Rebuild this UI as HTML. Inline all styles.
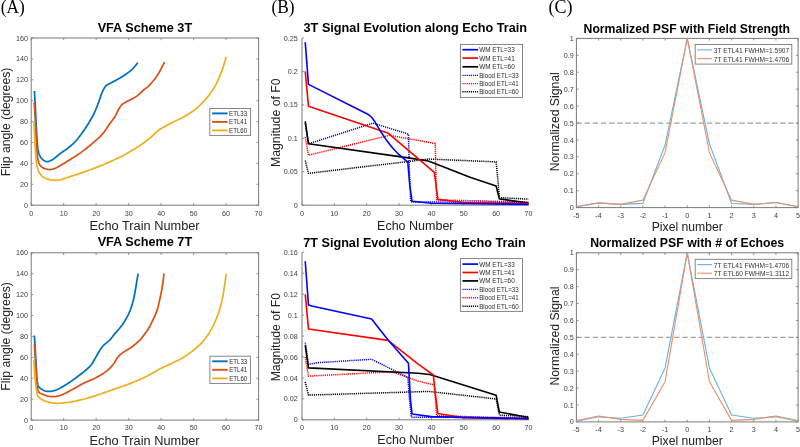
<!DOCTYPE html><html><head><meta charset="utf-8"><style>html,body{margin:0;padding:0;background:#fff;width:800px;height:447px;overflow:hidden}svg{display:block;will-change:transform}</style></head><body>
<svg width="800" height="447" viewBox="0 0 800 447">
<rect width="800" height="447" fill="#fff"/>
<text x="0.80" y="12.60" font-size="18" font-family='"Liberation Serif", serif' fill="#000" text-anchor="start" textLength="24.00" lengthAdjust="spacingAndGlyphs" >(A)</text>
<text x="271.60" y="12.60" font-size="18" font-family='"Liberation Serif", serif' fill="#000" text-anchor="start" textLength="23.00" lengthAdjust="spacingAndGlyphs" >(B)</text>
<text x="548.50" y="12.60" font-size="18" font-family='"Liberation Serif", serif' fill="#000" text-anchor="start" textLength="24.00" lengthAdjust="spacingAndGlyphs" >(C)</text>
<rect x="31.20" y="38.00" width="227.40" height="167.20" fill="none" stroke="#7a7a7a" stroke-width="1"/>
<line x1="31.20" y1="205.20" x2="31.20" y2="203.00" stroke="#7a7a7a" stroke-width="0.8"/>
<line x1="31.20" y1="38.00" x2="31.20" y2="40.20" stroke="#7a7a7a" stroke-width="0.8"/>
<line x1="63.69" y1="205.20" x2="63.69" y2="203.00" stroke="#7a7a7a" stroke-width="0.8"/>
<line x1="63.69" y1="38.00" x2="63.69" y2="40.20" stroke="#7a7a7a" stroke-width="0.8"/>
<line x1="96.17" y1="205.20" x2="96.17" y2="203.00" stroke="#7a7a7a" stroke-width="0.8"/>
<line x1="96.17" y1="38.00" x2="96.17" y2="40.20" stroke="#7a7a7a" stroke-width="0.8"/>
<line x1="128.66" y1="205.20" x2="128.66" y2="203.00" stroke="#7a7a7a" stroke-width="0.8"/>
<line x1="128.66" y1="38.00" x2="128.66" y2="40.20" stroke="#7a7a7a" stroke-width="0.8"/>
<line x1="161.14" y1="205.20" x2="161.14" y2="203.00" stroke="#7a7a7a" stroke-width="0.8"/>
<line x1="161.14" y1="38.00" x2="161.14" y2="40.20" stroke="#7a7a7a" stroke-width="0.8"/>
<line x1="193.63" y1="205.20" x2="193.63" y2="203.00" stroke="#7a7a7a" stroke-width="0.8"/>
<line x1="193.63" y1="38.00" x2="193.63" y2="40.20" stroke="#7a7a7a" stroke-width="0.8"/>
<line x1="226.11" y1="205.20" x2="226.11" y2="203.00" stroke="#7a7a7a" stroke-width="0.8"/>
<line x1="226.11" y1="38.00" x2="226.11" y2="40.20" stroke="#7a7a7a" stroke-width="0.8"/>
<line x1="258.60" y1="205.20" x2="258.60" y2="203.00" stroke="#7a7a7a" stroke-width="0.8"/>
<line x1="258.60" y1="38.00" x2="258.60" y2="40.20" stroke="#7a7a7a" stroke-width="0.8"/>
<line x1="31.20" y1="205.20" x2="33.40" y2="205.20" stroke="#7a7a7a" stroke-width="0.8"/>
<line x1="258.60" y1="205.20" x2="256.40" y2="205.20" stroke="#7a7a7a" stroke-width="0.8"/>
<line x1="31.20" y1="184.30" x2="33.40" y2="184.30" stroke="#7a7a7a" stroke-width="0.8"/>
<line x1="258.60" y1="184.30" x2="256.40" y2="184.30" stroke="#7a7a7a" stroke-width="0.8"/>
<line x1="31.20" y1="163.40" x2="33.40" y2="163.40" stroke="#7a7a7a" stroke-width="0.8"/>
<line x1="258.60" y1="163.40" x2="256.40" y2="163.40" stroke="#7a7a7a" stroke-width="0.8"/>
<line x1="31.20" y1="142.50" x2="33.40" y2="142.50" stroke="#7a7a7a" stroke-width="0.8"/>
<line x1="258.60" y1="142.50" x2="256.40" y2="142.50" stroke="#7a7a7a" stroke-width="0.8"/>
<line x1="31.20" y1="121.60" x2="33.40" y2="121.60" stroke="#7a7a7a" stroke-width="0.8"/>
<line x1="258.60" y1="121.60" x2="256.40" y2="121.60" stroke="#7a7a7a" stroke-width="0.8"/>
<line x1="31.20" y1="100.70" x2="33.40" y2="100.70" stroke="#7a7a7a" stroke-width="0.8"/>
<line x1="258.60" y1="100.70" x2="256.40" y2="100.70" stroke="#7a7a7a" stroke-width="0.8"/>
<line x1="31.20" y1="79.80" x2="33.40" y2="79.80" stroke="#7a7a7a" stroke-width="0.8"/>
<line x1="258.60" y1="79.80" x2="256.40" y2="79.80" stroke="#7a7a7a" stroke-width="0.8"/>
<line x1="31.20" y1="58.90" x2="33.40" y2="58.90" stroke="#7a7a7a" stroke-width="0.8"/>
<line x1="258.60" y1="58.90" x2="256.40" y2="58.90" stroke="#7a7a7a" stroke-width="0.8"/>
<line x1="31.20" y1="38.00" x2="33.40" y2="38.00" stroke="#7a7a7a" stroke-width="0.8"/>
<line x1="258.60" y1="38.00" x2="256.40" y2="38.00" stroke="#7a7a7a" stroke-width="0.8"/>
<text x="31.20" y="215.80" font-size="7.2" font-family='"Liberation Sans", sans-serif' fill="#3c3c3c" text-anchor="middle" >0</text>
<text x="63.69" y="215.80" font-size="7.2" font-family='"Liberation Sans", sans-serif' fill="#3c3c3c" text-anchor="middle" >10</text>
<text x="96.17" y="215.80" font-size="7.2" font-family='"Liberation Sans", sans-serif' fill="#3c3c3c" text-anchor="middle" >20</text>
<text x="128.66" y="215.80" font-size="7.2" font-family='"Liberation Sans", sans-serif' fill="#3c3c3c" text-anchor="middle" >30</text>
<text x="161.14" y="215.80" font-size="7.2" font-family='"Liberation Sans", sans-serif' fill="#3c3c3c" text-anchor="middle" >40</text>
<text x="193.63" y="215.80" font-size="7.2" font-family='"Liberation Sans", sans-serif' fill="#3c3c3c" text-anchor="middle" >50</text>
<text x="226.11" y="215.80" font-size="7.2" font-family='"Liberation Sans", sans-serif' fill="#3c3c3c" text-anchor="middle" >60</text>
<text x="258.60" y="215.80" font-size="7.2" font-family='"Liberation Sans", sans-serif' fill="#3c3c3c" text-anchor="middle" >70</text>
<text x="28.00" y="207.79" font-size="7.2" font-family='"Liberation Sans", sans-serif' fill="#3c3c3c" text-anchor="end" >0</text>
<text x="28.00" y="186.89" font-size="7.2" font-family='"Liberation Sans", sans-serif' fill="#3c3c3c" text-anchor="end" >20</text>
<text x="28.00" y="165.99" font-size="7.2" font-family='"Liberation Sans", sans-serif' fill="#3c3c3c" text-anchor="end" >40</text>
<text x="28.00" y="145.09" font-size="7.2" font-family='"Liberation Sans", sans-serif' fill="#3c3c3c" text-anchor="end" >60</text>
<text x="28.00" y="124.19" font-size="7.2" font-family='"Liberation Sans", sans-serif' fill="#3c3c3c" text-anchor="end" >80</text>
<text x="28.00" y="103.29" font-size="7.2" font-family='"Liberation Sans", sans-serif' fill="#3c3c3c" text-anchor="end" >100</text>
<text x="28.00" y="82.39" font-size="7.2" font-family='"Liberation Sans", sans-serif' fill="#3c3c3c" text-anchor="end" >120</text>
<text x="28.00" y="61.49" font-size="7.2" font-family='"Liberation Sans", sans-serif' fill="#3c3c3c" text-anchor="end" >140</text>
<text x="28.00" y="40.59" font-size="7.2" font-family='"Liberation Sans", sans-serif' fill="#3c3c3c" text-anchor="end" >160</text>
<text x="144.90" y="32.30" font-size="12" font-family='"Liberation Sans", sans-serif' fill="#000" text-anchor="middle" font-weight="bold" textLength="94.50" lengthAdjust="spacingAndGlyphs" >VFA Scheme 3T</text>
<text x="144.60" y="230.40" font-size="12" font-family='"Liberation Sans", sans-serif' fill="#222222" text-anchor="middle" textLength="110.00" lengthAdjust="spacingAndGlyphs" >Echo Train Number</text>
<text x="10.50" y="121.90" font-size="12" font-family='"Liberation Sans", sans-serif' fill="#222222" text-anchor="middle" textLength="108.50" lengthAdjust="spacingAndGlyphs" transform="rotate(-90 10.50 121.90)" >Flip angle (degrees)</text>
<rect x="31.20" y="252.80" width="227.40" height="167.30" fill="none" stroke="#7a7a7a" stroke-width="1"/>
<line x1="31.20" y1="420.10" x2="31.20" y2="417.90" stroke="#7a7a7a" stroke-width="0.8"/>
<line x1="31.20" y1="252.80" x2="31.20" y2="255.00" stroke="#7a7a7a" stroke-width="0.8"/>
<line x1="63.69" y1="420.10" x2="63.69" y2="417.90" stroke="#7a7a7a" stroke-width="0.8"/>
<line x1="63.69" y1="252.80" x2="63.69" y2="255.00" stroke="#7a7a7a" stroke-width="0.8"/>
<line x1="96.17" y1="420.10" x2="96.17" y2="417.90" stroke="#7a7a7a" stroke-width="0.8"/>
<line x1="96.17" y1="252.80" x2="96.17" y2="255.00" stroke="#7a7a7a" stroke-width="0.8"/>
<line x1="128.66" y1="420.10" x2="128.66" y2="417.90" stroke="#7a7a7a" stroke-width="0.8"/>
<line x1="128.66" y1="252.80" x2="128.66" y2="255.00" stroke="#7a7a7a" stroke-width="0.8"/>
<line x1="161.14" y1="420.10" x2="161.14" y2="417.90" stroke="#7a7a7a" stroke-width="0.8"/>
<line x1="161.14" y1="252.80" x2="161.14" y2="255.00" stroke="#7a7a7a" stroke-width="0.8"/>
<line x1="193.63" y1="420.10" x2="193.63" y2="417.90" stroke="#7a7a7a" stroke-width="0.8"/>
<line x1="193.63" y1="252.80" x2="193.63" y2="255.00" stroke="#7a7a7a" stroke-width="0.8"/>
<line x1="226.11" y1="420.10" x2="226.11" y2="417.90" stroke="#7a7a7a" stroke-width="0.8"/>
<line x1="226.11" y1="252.80" x2="226.11" y2="255.00" stroke="#7a7a7a" stroke-width="0.8"/>
<line x1="258.60" y1="420.10" x2="258.60" y2="417.90" stroke="#7a7a7a" stroke-width="0.8"/>
<line x1="258.60" y1="252.80" x2="258.60" y2="255.00" stroke="#7a7a7a" stroke-width="0.8"/>
<line x1="31.20" y1="420.10" x2="33.40" y2="420.10" stroke="#7a7a7a" stroke-width="0.8"/>
<line x1="258.60" y1="420.10" x2="256.40" y2="420.10" stroke="#7a7a7a" stroke-width="0.8"/>
<line x1="31.20" y1="399.19" x2="33.40" y2="399.19" stroke="#7a7a7a" stroke-width="0.8"/>
<line x1="258.60" y1="399.19" x2="256.40" y2="399.19" stroke="#7a7a7a" stroke-width="0.8"/>
<line x1="31.20" y1="378.27" x2="33.40" y2="378.27" stroke="#7a7a7a" stroke-width="0.8"/>
<line x1="258.60" y1="378.27" x2="256.40" y2="378.27" stroke="#7a7a7a" stroke-width="0.8"/>
<line x1="31.20" y1="357.36" x2="33.40" y2="357.36" stroke="#7a7a7a" stroke-width="0.8"/>
<line x1="258.60" y1="357.36" x2="256.40" y2="357.36" stroke="#7a7a7a" stroke-width="0.8"/>
<line x1="31.20" y1="336.45" x2="33.40" y2="336.45" stroke="#7a7a7a" stroke-width="0.8"/>
<line x1="258.60" y1="336.45" x2="256.40" y2="336.45" stroke="#7a7a7a" stroke-width="0.8"/>
<line x1="31.20" y1="315.54" x2="33.40" y2="315.54" stroke="#7a7a7a" stroke-width="0.8"/>
<line x1="258.60" y1="315.54" x2="256.40" y2="315.54" stroke="#7a7a7a" stroke-width="0.8"/>
<line x1="31.20" y1="294.62" x2="33.40" y2="294.62" stroke="#7a7a7a" stroke-width="0.8"/>
<line x1="258.60" y1="294.62" x2="256.40" y2="294.62" stroke="#7a7a7a" stroke-width="0.8"/>
<line x1="31.20" y1="273.71" x2="33.40" y2="273.71" stroke="#7a7a7a" stroke-width="0.8"/>
<line x1="258.60" y1="273.71" x2="256.40" y2="273.71" stroke="#7a7a7a" stroke-width="0.8"/>
<line x1="31.20" y1="252.80" x2="33.40" y2="252.80" stroke="#7a7a7a" stroke-width="0.8"/>
<line x1="258.60" y1="252.80" x2="256.40" y2="252.80" stroke="#7a7a7a" stroke-width="0.8"/>
<text x="31.20" y="430.30" font-size="7.2" font-family='"Liberation Sans", sans-serif' fill="#3c3c3c" text-anchor="middle" >0</text>
<text x="63.69" y="430.30" font-size="7.2" font-family='"Liberation Sans", sans-serif' fill="#3c3c3c" text-anchor="middle" >10</text>
<text x="96.17" y="430.30" font-size="7.2" font-family='"Liberation Sans", sans-serif' fill="#3c3c3c" text-anchor="middle" >20</text>
<text x="128.66" y="430.30" font-size="7.2" font-family='"Liberation Sans", sans-serif' fill="#3c3c3c" text-anchor="middle" >30</text>
<text x="161.14" y="430.30" font-size="7.2" font-family='"Liberation Sans", sans-serif' fill="#3c3c3c" text-anchor="middle" >40</text>
<text x="193.63" y="430.30" font-size="7.2" font-family='"Liberation Sans", sans-serif' fill="#3c3c3c" text-anchor="middle" >50</text>
<text x="226.11" y="430.30" font-size="7.2" font-family='"Liberation Sans", sans-serif' fill="#3c3c3c" text-anchor="middle" >60</text>
<text x="258.60" y="430.30" font-size="7.2" font-family='"Liberation Sans", sans-serif' fill="#3c3c3c" text-anchor="middle" >70</text>
<text x="28.00" y="422.69" font-size="7.2" font-family='"Liberation Sans", sans-serif' fill="#3c3c3c" text-anchor="end" >0</text>
<text x="28.00" y="401.78" font-size="7.2" font-family='"Liberation Sans", sans-serif' fill="#3c3c3c" text-anchor="end" >20</text>
<text x="28.00" y="380.87" font-size="7.2" font-family='"Liberation Sans", sans-serif' fill="#3c3c3c" text-anchor="end" >40</text>
<text x="28.00" y="359.95" font-size="7.2" font-family='"Liberation Sans", sans-serif' fill="#3c3c3c" text-anchor="end" >60</text>
<text x="28.00" y="339.04" font-size="7.2" font-family='"Liberation Sans", sans-serif' fill="#3c3c3c" text-anchor="end" >80</text>
<text x="28.00" y="318.13" font-size="7.2" font-family='"Liberation Sans", sans-serif' fill="#3c3c3c" text-anchor="end" >100</text>
<text x="28.00" y="297.22" font-size="7.2" font-family='"Liberation Sans", sans-serif' fill="#3c3c3c" text-anchor="end" >120</text>
<text x="28.00" y="276.30" font-size="7.2" font-family='"Liberation Sans", sans-serif' fill="#3c3c3c" text-anchor="end" >140</text>
<text x="28.00" y="255.39" font-size="7.2" font-family='"Liberation Sans", sans-serif' fill="#3c3c3c" text-anchor="end" >160</text>
<text x="144.90" y="246.40" font-size="12" font-family='"Liberation Sans", sans-serif' fill="#000" text-anchor="middle" font-weight="bold" textLength="94.50" lengthAdjust="spacingAndGlyphs" >VFA Scheme 7T</text>
<text x="144.60" y="444.60" font-size="12" font-family='"Liberation Sans", sans-serif' fill="#222222" text-anchor="middle" textLength="110.00" lengthAdjust="spacingAndGlyphs" >Echo Train Number</text>
<text x="10.50" y="336.40" font-size="12" font-family='"Liberation Sans", sans-serif' fill="#222222" text-anchor="middle" textLength="108.50" lengthAdjust="spacingAndGlyphs" transform="rotate(-90 10.50 336.40)" >Flip angle (degrees)</text>
<path d="M34.40,91.00 L34.48,92.38 L34.59,94.13 L34.71,96.19 L34.85,98.54 L35.00,101.14 L35.16,103.94 L35.33,106.91 L35.50,110.00 L35.68,113.46 L35.87,117.44 L36.07,121.73 L36.27,126.15 L36.49,130.51 L36.70,134.61 L36.90,138.27 L37.10,141.30 L37.28,143.68 L37.44,145.59 L37.60,147.12 L37.76,148.36 L37.92,149.41 L38.11,150.36 L38.34,151.29 L38.60,152.30 L38.89,153.33 L39.21,154.28 L39.54,155.15 L39.90,155.95 L40.29,156.69 L40.72,157.37 L41.19,158.00 L41.70,158.60 L42.27,159.17 L42.89,159.72 L43.55,160.22 L44.25,160.66 L44.97,161.04 L45.71,161.33 L46.46,161.52 L47.20,161.60 L47.95,161.55 L48.71,161.38 L49.50,161.11 L50.29,160.76 L51.09,160.35 L51.89,159.88 L52.70,159.40 L53.50,158.90 L54.29,158.37 L55.08,157.78 L55.87,157.15 L56.66,156.48 L57.46,155.78 L58.28,155.08 L59.12,154.38 L60.00,153.70 L60.91,153.04 L61.86,152.38 L62.83,151.73 L63.81,151.07 L64.81,150.39 L65.81,149.69 L66.81,148.97 L67.80,148.20 L68.78,147.41 L69.77,146.61 L70.76,145.79 L71.75,144.94 L72.74,144.05 L73.73,143.12 L74.72,142.14 L75.70,141.10 L76.69,139.99 L77.68,138.81 L78.67,137.57 L79.66,136.29 L80.64,134.99 L81.61,133.66 L82.56,132.33 L83.50,131.00 L84.43,129.65 L85.36,128.26 L86.29,126.84 L87.21,125.41 L88.09,124.00 L88.94,122.61 L89.75,121.27 L90.50,120.00 L91.19,118.80 L91.83,117.66 L92.42,116.56 L92.98,115.49 L93.50,114.44 L94.01,113.40 L94.51,112.36 L95.00,111.30 L95.48,110.24 L95.93,109.20 L96.36,108.17 L96.77,107.14 L97.18,106.11 L97.58,105.06 L97.99,104.00 L98.40,102.90 L98.82,101.74 L99.26,100.51 L99.69,99.25 L100.12,97.98 L100.54,96.74 L100.95,95.56 L101.34,94.47 L101.70,93.50 L102.03,92.66 L102.34,91.92 L102.63,91.26 L102.90,90.66 L103.17,90.12 L103.43,89.60 L103.71,89.10 L104.00,88.60 L104.29,88.11 L104.56,87.67 L104.83,87.25 L105.10,86.86 L105.39,86.48 L105.72,86.12 L106.08,85.76 L106.50,85.40 L106.95,85.07 L107.39,84.78 L107.86,84.51 L108.38,84.25 L108.95,83.97 L109.59,83.65 L110.34,83.26 L111.20,82.80 L112.20,82.25 L113.35,81.65 L114.60,80.99 L115.92,80.28 L117.28,79.54 L118.66,78.78 L120.01,77.99 L121.30,77.20 L122.58,76.39 L123.89,75.54 L125.21,74.66 L126.53,73.76 L127.81,72.85 L129.05,71.93 L130.22,71.01 L131.30,70.10 L132.32,69.14 L133.32,68.10 L134.28,67.02 L135.18,65.96 L135.99,64.95 L136.71,64.04 L137.32,63.27 L137.80,62.70" fill="none" stroke="#0072BD" stroke-width="1.75" stroke-linejoin="round" />
<path d="M34.00,102.90 L34.05,103.28 L34.10,103.61 L34.17,103.98 L34.25,104.49 L34.34,105.25 L34.45,106.36 L34.56,107.91 L34.70,110.00 L34.86,112.85 L35.04,116.45 L35.24,120.58 L35.45,125.01 L35.67,129.52 L35.89,133.89 L36.10,137.89 L36.30,141.30 L36.48,144.20 L36.64,146.83 L36.80,149.23 L36.95,151.42 L37.12,153.42 L37.31,155.27 L37.53,156.99 L37.80,158.60 L38.09,160.06 L38.37,161.33 L38.67,162.43 L39.01,163.39 L39.39,164.24 L39.84,165.00 L40.37,165.71 L41.00,166.40 L41.77,167.04 L42.66,167.61 L43.66,168.10 L44.71,168.51 L45.79,168.86 L46.85,169.14 L47.87,169.35 L48.80,169.50 L49.66,169.57 L50.49,169.54 L51.29,169.43 L52.07,169.26 L52.83,169.04 L53.57,168.80 L54.29,168.55 L55.00,168.30 L55.65,168.06 L56.23,167.82 L56.77,167.56 L57.30,167.28 L57.86,166.96 L58.47,166.60 L59.17,166.18 L60.00,165.70 L60.95,165.15 L62.00,164.53 L63.13,163.85 L64.33,163.13 L65.56,162.38 L66.83,161.60 L68.12,160.80 L69.40,160.00 L70.70,159.19 L72.04,158.36 L73.41,157.51 L74.81,156.63 L76.21,155.73 L77.62,154.81 L79.02,153.87 L80.40,152.90 L81.77,151.91 L83.13,150.89 L84.49,149.85 L85.85,148.79 L87.21,147.70 L88.57,146.59 L89.93,145.46 L91.30,144.30 L92.70,143.11 L94.13,141.88 L95.58,140.62 L97.03,139.34 L98.45,138.05 L99.81,136.76 L101.11,135.47 L102.30,134.20 L103.39,132.92 L104.40,131.62 L105.35,130.31 L106.24,129.01 L107.08,127.72 L107.90,126.46 L108.70,125.25 L109.50,124.10 L110.29,123.01 L111.06,121.96 L111.81,120.96 L112.54,119.99 L113.23,119.05 L113.89,118.13 L114.52,117.21 L115.10,116.30 L115.63,115.39 L116.11,114.48 L116.54,113.58 L116.94,112.71 L117.33,111.85 L117.71,111.03 L118.09,110.24 L118.50,109.50 L118.92,108.80 L119.33,108.12 L119.74,107.48 L120.15,106.88 L120.56,106.30 L120.97,105.76 L121.38,105.26 L121.80,104.80 L122.21,104.39 L122.59,104.05 L122.97,103.75 L123.36,103.49 L123.76,103.24 L124.19,102.98 L124.67,102.71 L125.20,102.40 L125.79,102.07 L126.42,101.73 L127.09,101.39 L127.79,101.04 L128.52,100.68 L129.27,100.31 L130.03,99.91 L130.80,99.50 L131.58,99.08 L132.40,98.65 L133.23,98.21 L134.08,97.75 L134.94,97.27 L135.80,96.75 L136.65,96.20 L137.50,95.60 L138.35,94.93 L139.21,94.19 L140.07,93.39 L140.94,92.57 L141.79,91.75 L142.62,90.95 L143.43,90.19 L144.20,89.50 L144.91,88.92 L145.56,88.43 L146.17,88.01 L146.77,87.60 L147.38,87.16 L148.02,86.64 L148.72,86.00 L149.50,85.20 L150.38,84.24 L151.33,83.15 L152.34,81.97 L153.39,80.70 L154.45,79.36 L155.50,77.97 L156.52,76.55 L157.50,75.10 L158.48,73.52 L159.50,71.73 L160.54,69.83 L161.55,67.92 L162.50,66.08 L163.35,64.42 L164.06,63.03 L164.60,62.00" fill="none" stroke="#D95319" stroke-width="1.75" stroke-linejoin="round" />
<path d="M34.00,121.80 L34.06,123.18 L34.13,124.99 L34.21,127.14 L34.31,129.54 L34.41,132.12 L34.53,134.78 L34.66,137.43 L34.80,140.00 L34.95,142.63 L35.11,145.47 L35.28,148.42 L35.46,151.40 L35.65,154.31 L35.85,157.06 L36.07,159.55 L36.30,161.70 L36.54,163.49 L36.78,165.01 L37.03,166.30 L37.30,167.41 L37.59,168.40 L37.89,169.31 L38.23,170.20 L38.60,171.10 L38.99,171.99 L39.41,172.81 L39.84,173.57 L40.30,174.26 L40.79,174.91 L41.32,175.51 L41.89,176.07 L42.50,176.60 L43.18,177.09 L43.93,177.54 L44.74,177.94 L45.57,178.29 L46.41,178.62 L47.25,178.90 L48.05,179.16 L48.80,179.40 L49.50,179.60 L50.16,179.77 L50.80,179.90 L51.42,180.00 L52.04,180.08 L52.67,180.13 L53.32,180.17 L54.00,180.20 L54.65,180.24 L55.22,180.29 L55.77,180.34 L56.34,180.36 L57.00,180.34 L57.80,180.25 L58.78,180.08 L60.00,179.80 L61.50,179.40 L63.25,178.89 L65.18,178.28 L67.25,177.62 L69.39,176.91 L71.55,176.19 L73.68,175.48 L75.70,174.80 L77.65,174.14 L79.60,173.48 L81.55,172.80 L83.50,172.13 L85.45,171.44 L87.40,170.74 L89.35,170.02 L91.30,169.30 L93.26,168.57 L95.22,167.83 L97.18,167.08 L99.14,166.32 L101.11,165.54 L103.07,164.75 L105.04,163.94 L107.00,163.10 L108.96,162.24 L110.93,161.37 L112.89,160.49 L114.86,159.58 L116.82,158.65 L118.78,157.70 L120.74,156.71 L122.70,155.70 L124.68,154.65 L126.68,153.55 L128.69,152.43 L130.69,151.28 L132.67,150.11 L134.61,148.94 L136.49,147.76 L138.30,146.60 L140.05,145.42 L141.79,144.21 L143.48,142.98 L145.12,141.75 L146.70,140.54 L148.19,139.37 L149.60,138.25 L150.90,137.20 L152.08,136.21 L153.15,135.26 L154.12,134.34 L155.01,133.47 L155.85,132.64 L156.65,131.87 L157.42,131.16 L158.20,130.50 L158.93,129.93 L159.57,129.47 L160.15,129.07 L160.71,128.72 L161.29,128.38 L161.90,128.04 L162.60,127.65 L163.40,127.20 L164.30,126.70 L165.25,126.17 L166.26,125.63 L167.32,125.07 L168.43,124.48 L169.60,123.88 L170.83,123.25 L172.10,122.60 L173.45,121.93 L174.89,121.25 L176.39,120.54 L177.94,119.82 L179.51,119.07 L181.10,118.28 L182.66,117.46 L184.20,116.60 L185.73,115.70 L187.27,114.77 L188.83,113.80 L190.38,112.81 L191.91,111.78 L193.42,110.71 L194.88,109.62 L196.30,108.50 L197.67,107.34 L199.01,106.14 L200.33,104.90 L201.61,103.64 L202.85,102.35 L204.07,101.04 L205.25,99.72 L206.40,98.40 L207.51,97.07 L208.59,95.74 L209.64,94.40 L210.65,93.04 L211.63,91.65 L212.58,90.24 L213.51,88.79 L214.40,87.30 L215.27,85.74 L216.12,84.09 L216.94,82.40 L217.73,80.68 L218.48,78.97 L219.20,77.30 L219.87,75.70 L220.50,74.20 L221.08,72.78 L221.61,71.42 L222.10,70.11 L222.56,68.85 L222.98,67.63 L223.37,66.45 L223.74,65.31 L224.10,64.20 L224.44,63.09 L224.76,61.97 L225.06,60.87 L225.32,59.83 L225.57,58.85 L225.78,57.99 L225.96,57.26 L226.10,56.70" fill="none" stroke="#EDB120" stroke-width="1.75" stroke-linejoin="round" />
<path d="M34.40,335.50 L34.52,337.58 L34.69,340.38 L34.89,343.73 L35.11,347.42 L35.34,351.28 L35.57,355.12 L35.79,358.76 L36.00,362.00 L36.18,365.02 L36.34,368.06 L36.48,371.07 L36.63,373.97 L36.80,376.71 L36.99,379.21 L37.22,381.43 L37.50,383.30 L37.82,384.75 L38.17,385.83 L38.55,386.61 L38.96,387.16 L39.40,387.57 L39.89,387.91 L40.42,388.26 L41.00,388.70 L41.63,389.19 L42.32,389.65 L43.05,390.08 L43.82,390.46 L44.63,390.78 L45.47,391.06 L46.33,391.26 L47.20,391.40 L48.10,391.47 L49.02,391.48 L49.97,391.42 L50.95,391.31 L51.95,391.14 L52.98,390.92 L54.03,390.64 L55.10,390.30 L56.18,389.91 L57.27,389.47 L58.38,388.97 L59.51,388.42 L60.68,387.81 L61.90,387.13 L63.17,386.40 L64.50,385.60 L65.91,384.72 L67.41,383.76 L68.96,382.73 L70.56,381.64 L72.18,380.51 L73.80,379.35 L75.42,378.18 L77.00,377.00 L78.61,375.79 L80.29,374.52 L82.00,373.20 L83.69,371.88 L85.33,370.55 L86.87,369.25 L88.27,367.99 L89.50,366.80 L90.54,365.66 L91.41,364.56 L92.16,363.49 L92.81,362.44 L93.39,361.43 L93.93,360.46 L94.46,359.51 L95.00,358.60 L95.53,357.74 L96.00,356.93 L96.42,356.17 L96.83,355.43 L97.22,354.71 L97.62,353.99 L98.04,353.26 L98.50,352.50 L98.98,351.72 L99.46,350.93 L99.94,350.14 L100.44,349.35 L100.97,348.56 L101.53,347.77 L102.14,346.98 L102.80,346.20 L103.54,345.43 L104.36,344.66 L105.24,343.90 L106.15,343.14 L107.06,342.39 L107.96,341.63 L108.81,340.87 L109.60,340.10 L110.30,339.35 L110.93,338.63 L111.52,337.92 L112.09,337.21 L112.66,336.46 L113.27,335.68 L113.94,334.83 L114.70,333.90 L115.56,332.89 L116.50,331.81 L117.49,330.68 L118.53,329.49 L119.57,328.28 L120.59,327.03 L121.58,325.77 L122.50,324.50 L123.38,323.21 L124.24,321.88 L125.08,320.53 L125.89,319.15 L126.68,317.76 L127.43,316.37 L128.14,314.98 L128.80,313.60 L129.41,312.23 L129.98,310.86 L130.50,309.48 L130.99,308.11 L131.45,306.73 L131.89,305.35 L132.30,303.98 L132.70,302.60 L133.08,301.22 L133.42,299.85 L133.74,298.47 L134.03,297.09 L134.31,295.72 L134.58,294.34 L134.84,292.97 L135.10,291.60 L135.36,290.21 L135.60,288.78 L135.84,287.34 L136.07,285.91 L136.29,284.50 L136.50,283.16 L136.70,281.88 L136.90,280.70 L137.10,279.58 L137.29,278.49 L137.48,277.45 L137.66,276.47 L137.83,275.58 L137.98,274.79 L138.10,274.12 L138.20,273.60" fill="none" stroke="#0072BD" stroke-width="1.75" stroke-linejoin="round" />
<path d="M34.40,344.10 L34.52,346.14 L34.68,348.90 L34.87,352.20 L35.09,355.83 L35.32,359.62 L35.55,363.37 L35.78,366.89 L36.00,370.00 L36.20,372.84 L36.37,375.67 L36.53,378.43 L36.71,381.08 L36.90,383.55 L37.14,385.82 L37.43,387.81 L37.80,389.50 L38.22,390.81 L38.66,391.77 L39.14,392.45 L39.67,392.92 L40.27,393.26 L40.93,393.53 L41.67,393.82 L42.50,394.20 L43.45,394.64 L44.52,395.06 L45.68,395.44 L46.91,395.79 L48.17,396.09 L49.44,396.34 L50.69,396.51 L51.90,396.60 L53.05,396.62 L54.17,396.59 L55.28,396.50 L56.40,396.34 L57.54,396.12 L58.72,395.82 L59.97,395.45 L61.30,395.00 L62.74,394.43 L64.28,393.74 L65.90,392.96 L67.56,392.11 L69.22,391.23 L70.85,390.34 L72.42,389.49 L73.90,388.70 L75.28,387.95 L76.58,387.21 L77.83,386.48 L79.05,385.76 L80.26,385.05 L81.47,384.35 L82.71,383.67 L84.00,383.00 L85.33,382.37 L86.68,381.78 L88.05,381.22 L89.43,380.67 L90.82,380.11 L92.21,379.52 L93.61,378.89 L95.00,378.20 L96.42,377.45 L97.89,376.64 L99.38,375.79 L100.87,374.92 L102.32,374.03 L103.71,373.14 L105.01,372.26 L106.20,371.40 L107.26,370.57 L108.22,369.76 L109.09,368.95 L109.90,368.15 L110.67,367.33 L111.41,366.49 L112.15,365.62 L112.90,364.70 L113.65,363.70 L114.38,362.63 L115.08,361.50 L115.77,360.36 L116.45,359.24 L117.13,358.17 L117.81,357.17 L118.50,356.30 L119.18,355.55 L119.85,354.91 L120.50,354.35 L121.16,353.84 L121.83,353.35 L122.54,352.87 L123.29,352.36 L124.10,351.80 L124.98,351.21 L125.92,350.63 L126.90,350.04 L127.91,349.44 L128.94,348.82 L129.98,348.18 L131.00,347.51 L132.00,346.80 L133.00,346.04 L134.03,345.22 L135.08,344.36 L136.11,343.49 L137.12,342.61 L138.08,341.74 L138.98,340.90 L139.80,340.10 L140.53,339.34 L141.19,338.60 L141.78,337.87 L142.33,337.16 L142.85,336.47 L143.34,335.80 L143.82,335.14 L144.30,334.50 L144.77,333.90 L145.20,333.36 L145.60,332.84 L145.99,332.34 L146.37,331.82 L146.76,331.28 L147.17,330.67 L147.60,330.00 L148.05,329.28 L148.50,328.56 L148.95,327.80 L149.41,327.01 L149.89,326.15 L150.40,325.20 L150.93,324.16 L151.50,323.00 L152.13,321.69 L152.82,320.24 L153.55,318.68 L154.30,317.04 L155.04,315.36 L155.76,313.67 L156.42,312.01 L157.00,310.40 L157.51,308.83 L157.96,307.27 L158.37,305.71 L158.74,304.14 L159.09,302.58 L159.43,301.02 L159.76,299.46 L160.10,297.90 L160.44,296.33 L160.77,294.76 L161.09,293.18 L161.40,291.61 L161.70,290.04 L161.98,288.48 L162.25,286.93 L162.50,285.40 L162.74,283.81 L162.97,282.12 L163.19,280.41 L163.40,278.72 L163.59,277.13 L163.75,275.70 L163.89,274.51 L164.00,273.60" fill="none" stroke="#D95319" stroke-width="1.75" stroke-linejoin="round" />
<path d="M33.90,359.80 L34.00,361.40 L34.12,363.57 L34.26,366.15 L34.43,369.01 L34.60,371.97 L34.80,374.89 L35.00,377.62 L35.20,380.00 L35.42,382.15 L35.66,384.25 L35.91,386.29 L36.17,388.23 L36.43,390.02 L36.70,391.66 L36.95,393.09 L37.20,394.30 L37.41,395.21 L37.57,395.83 L37.71,396.22 L37.85,396.46 L38.03,396.62 L38.26,396.77 L38.58,396.97 L39.00,397.30 L39.52,397.74 L40.10,398.21 L40.74,398.70 L41.46,399.20 L42.24,399.69 L43.09,400.16 L44.01,400.60 L45.00,401.00 L46.09,401.37 L47.27,401.72 L48.54,402.06 L49.88,402.38 L51.25,402.65 L52.66,402.89 L54.08,403.07 L55.50,403.20 L56.91,403.27 L58.32,403.28 L59.76,403.25 L61.22,403.17 L62.71,403.06 L64.25,402.90 L65.85,402.72 L67.50,402.50 L69.23,402.25 L71.04,401.95 L72.91,401.61 L74.81,401.24 L76.74,400.84 L78.68,400.41 L80.60,399.96 L82.50,399.50 L84.38,399.01 L86.25,398.50 L88.12,397.95 L90.00,397.39 L91.88,396.80 L93.75,396.21 L95.62,395.61 L97.50,395.00 L99.38,394.38 L101.25,393.75 L103.12,393.11 L105.00,392.45 L106.88,391.79 L108.75,391.12 L110.62,390.46 L112.50,389.80 L114.39,389.14 L116.29,388.49 L118.19,387.83 L120.09,387.17 L121.98,386.51 L123.86,385.84 L125.70,385.17 L127.50,384.50 L129.29,383.82 L131.09,383.12 L132.87,382.41 L134.62,381.70 L136.33,381.00 L137.98,380.31 L139.54,379.64 L141.00,379.00 L142.33,378.40 L143.54,377.83 L144.66,377.29 L145.71,376.76 L146.74,376.23 L147.78,375.69 L148.85,375.11 L150.00,374.50 L151.21,373.84 L152.45,373.14 L153.72,372.41 L154.99,371.66 L156.28,370.92 L157.56,370.18 L158.84,369.47 L160.10,368.80 L161.33,368.17 L162.53,367.59 L163.72,367.03 L164.91,366.48 L166.12,365.92 L167.36,365.35 L168.65,364.75 L170.00,364.10 L171.42,363.42 L172.91,362.73 L174.44,362.03 L176.00,361.30 L177.58,360.54 L179.17,359.74 L180.75,358.90 L182.30,358.00 L183.85,357.04 L185.43,356.03 L187.02,354.98 L188.60,353.88 L190.16,352.76 L191.69,351.61 L193.18,350.46 L194.60,349.30 L195.97,348.14 L197.30,346.96 L198.60,345.77 L199.86,344.56 L201.08,343.33 L202.26,342.07 L203.40,340.80 L204.50,339.50 L205.55,338.19 L206.56,336.86 L207.52,335.53 L208.44,334.16 L209.33,332.77 L210.20,331.33 L211.05,329.84 L211.90,328.30 L212.74,326.69 L213.56,325.02 L214.37,323.29 L215.15,321.52 L215.91,319.73 L216.64,317.92 L217.34,316.11 L218.00,314.30 L218.63,312.49 L219.22,310.66 L219.79,308.81 L220.32,306.95 L220.83,305.09 L221.31,303.22 L221.77,301.36 L222.20,299.50 L222.60,297.62 L222.97,295.71 L223.31,293.79 L223.62,291.87 L223.91,289.98 L224.19,288.14 L224.45,286.37 L224.70,284.70 L224.95,283.06 L225.18,281.40 L225.40,279.78 L225.61,278.23 L225.79,276.79 L225.95,275.51 L226.09,274.43 L226.20,273.60" fill="none" stroke="#EDB120" stroke-width="1.75" stroke-linejoin="round" />
<rect x="209.80" y="108.50" width="40.80" height="26.90" fill="#fff" stroke="#7a7a7a" stroke-width="0.9"/>
<line x1="212.10" y1="113.40" x2="227.60" y2="113.40" stroke="#0072BD" stroke-width="1.9"/>
<text x="229.10" y="115.80" font-size="6.8" font-family='"Liberation Sans", sans-serif' fill="#2a2a2a" text-anchor="start" textLength="18.00" lengthAdjust="spacingAndGlyphs" >ETL33</text>
<line x1="212.10" y1="121.90" x2="227.60" y2="121.90" stroke="#D95319" stroke-width="1.9"/>
<text x="229.10" y="124.30" font-size="6.8" font-family='"Liberation Sans", sans-serif' fill="#2a2a2a" text-anchor="start" textLength="18.00" lengthAdjust="spacingAndGlyphs" >ETL41</text>
<line x1="212.10" y1="130.40" x2="227.60" y2="130.40" stroke="#EDB120" stroke-width="1.9"/>
<text x="229.10" y="132.80" font-size="6.8" font-family='"Liberation Sans", sans-serif' fill="#2a2a2a" text-anchor="start" textLength="18.00" lengthAdjust="spacingAndGlyphs" >ETL60</text>
<rect x="209.90" y="356.20" width="40.50" height="27.20" fill="#fff" stroke="#7a7a7a" stroke-width="0.9"/>
<line x1="212.20" y1="361.30" x2="227.70" y2="361.30" stroke="#0072BD" stroke-width="1.9"/>
<text x="229.20" y="363.70" font-size="6.8" font-family='"Liberation Sans", sans-serif' fill="#2a2a2a" text-anchor="start" textLength="18.00" lengthAdjust="spacingAndGlyphs" >ETL33</text>
<line x1="212.20" y1="369.80" x2="227.70" y2="369.80" stroke="#D95319" stroke-width="1.9"/>
<text x="229.20" y="372.20" font-size="6.8" font-family='"Liberation Sans", sans-serif' fill="#2a2a2a" text-anchor="start" textLength="18.00" lengthAdjust="spacingAndGlyphs" >ETL41</text>
<line x1="212.20" y1="378.40" x2="227.70" y2="378.40" stroke="#EDB120" stroke-width="1.9"/>
<text x="229.20" y="380.80" font-size="6.8" font-family='"Liberation Sans", sans-serif' fill="#2a2a2a" text-anchor="start" textLength="18.00" lengthAdjust="spacingAndGlyphs" >ETL60</text>
<path d="M302.00,38.00 L302.00,205.20 L528.50,205.20" fill="none" stroke="#7a7a7a" stroke-width="1" stroke-linejoin="round" />
<line x1="302.00" y1="205.20" x2="302.00" y2="203.00" stroke="#7a7a7a" stroke-width="0.8"/>
<line x1="334.36" y1="205.20" x2="334.36" y2="203.00" stroke="#7a7a7a" stroke-width="0.8"/>
<line x1="366.71" y1="205.20" x2="366.71" y2="203.00" stroke="#7a7a7a" stroke-width="0.8"/>
<line x1="399.07" y1="205.20" x2="399.07" y2="203.00" stroke="#7a7a7a" stroke-width="0.8"/>
<line x1="431.43" y1="205.20" x2="431.43" y2="203.00" stroke="#7a7a7a" stroke-width="0.8"/>
<line x1="463.79" y1="205.20" x2="463.79" y2="203.00" stroke="#7a7a7a" stroke-width="0.8"/>
<line x1="496.14" y1="205.20" x2="496.14" y2="203.00" stroke="#7a7a7a" stroke-width="0.8"/>
<line x1="528.50" y1="205.20" x2="528.50" y2="203.00" stroke="#7a7a7a" stroke-width="0.8"/>
<line x1="302.00" y1="205.20" x2="304.20" y2="205.20" stroke="#7a7a7a" stroke-width="0.8"/>
<line x1="302.00" y1="171.76" x2="304.20" y2="171.76" stroke="#7a7a7a" stroke-width="0.8"/>
<line x1="302.00" y1="138.32" x2="304.20" y2="138.32" stroke="#7a7a7a" stroke-width="0.8"/>
<line x1="302.00" y1="104.88" x2="304.20" y2="104.88" stroke="#7a7a7a" stroke-width="0.8"/>
<line x1="302.00" y1="71.44" x2="304.20" y2="71.44" stroke="#7a7a7a" stroke-width="0.8"/>
<line x1="302.00" y1="38.00" x2="304.20" y2="38.00" stroke="#7a7a7a" stroke-width="0.8"/>
<text x="302.00" y="215.80" font-size="7.2" font-family='"Liberation Sans", sans-serif' fill="#3c3c3c" text-anchor="middle" >0</text>
<text x="334.36" y="215.80" font-size="7.2" font-family='"Liberation Sans", sans-serif' fill="#3c3c3c" text-anchor="middle" >10</text>
<text x="366.71" y="215.80" font-size="7.2" font-family='"Liberation Sans", sans-serif' fill="#3c3c3c" text-anchor="middle" >20</text>
<text x="399.07" y="215.80" font-size="7.2" font-family='"Liberation Sans", sans-serif' fill="#3c3c3c" text-anchor="middle" >30</text>
<text x="431.43" y="215.80" font-size="7.2" font-family='"Liberation Sans", sans-serif' fill="#3c3c3c" text-anchor="middle" >40</text>
<text x="463.79" y="215.80" font-size="7.2" font-family='"Liberation Sans", sans-serif' fill="#3c3c3c" text-anchor="middle" >50</text>
<text x="496.14" y="215.80" font-size="7.2" font-family='"Liberation Sans", sans-serif' fill="#3c3c3c" text-anchor="middle" >60</text>
<text x="528.50" y="215.80" font-size="7.2" font-family='"Liberation Sans", sans-serif' fill="#3c3c3c" text-anchor="middle" >70</text>
<text x="297.80" y="207.79" font-size="7.2" font-family='"Liberation Sans", sans-serif' fill="#3c3c3c" text-anchor="end" >0</text>
<text x="297.80" y="174.35" font-size="7.2" font-family='"Liberation Sans", sans-serif' fill="#3c3c3c" text-anchor="end" >0.05</text>
<text x="297.80" y="140.91" font-size="7.2" font-family='"Liberation Sans", sans-serif' fill="#3c3c3c" text-anchor="end" >0.1</text>
<text x="297.80" y="107.47" font-size="7.2" font-family='"Liberation Sans", sans-serif' fill="#3c3c3c" text-anchor="end" >0.15</text>
<text x="297.80" y="74.03" font-size="7.2" font-family='"Liberation Sans", sans-serif' fill="#3c3c3c" text-anchor="end" >0.2</text>
<text x="297.80" y="40.59" font-size="7.2" font-family='"Liberation Sans", sans-serif' fill="#3c3c3c" text-anchor="end" >0.25</text>
<path d="M302.00,252.30 L302.00,419.80 L528.50,419.80" fill="none" stroke="#7a7a7a" stroke-width="1" stroke-linejoin="round" />
<line x1="302.00" y1="419.80" x2="302.00" y2="417.60" stroke="#7a7a7a" stroke-width="0.8"/>
<line x1="334.36" y1="419.80" x2="334.36" y2="417.60" stroke="#7a7a7a" stroke-width="0.8"/>
<line x1="366.71" y1="419.80" x2="366.71" y2="417.60" stroke="#7a7a7a" stroke-width="0.8"/>
<line x1="399.07" y1="419.80" x2="399.07" y2="417.60" stroke="#7a7a7a" stroke-width="0.8"/>
<line x1="431.43" y1="419.80" x2="431.43" y2="417.60" stroke="#7a7a7a" stroke-width="0.8"/>
<line x1="463.79" y1="419.80" x2="463.79" y2="417.60" stroke="#7a7a7a" stroke-width="0.8"/>
<line x1="496.14" y1="419.80" x2="496.14" y2="417.60" stroke="#7a7a7a" stroke-width="0.8"/>
<line x1="528.50" y1="419.80" x2="528.50" y2="417.60" stroke="#7a7a7a" stroke-width="0.8"/>
<line x1="302.00" y1="419.80" x2="304.20" y2="419.80" stroke="#7a7a7a" stroke-width="0.8"/>
<line x1="302.00" y1="398.86" x2="304.20" y2="398.86" stroke="#7a7a7a" stroke-width="0.8"/>
<line x1="302.00" y1="377.93" x2="304.20" y2="377.93" stroke="#7a7a7a" stroke-width="0.8"/>
<line x1="302.00" y1="356.99" x2="304.20" y2="356.99" stroke="#7a7a7a" stroke-width="0.8"/>
<line x1="302.00" y1="336.05" x2="304.20" y2="336.05" stroke="#7a7a7a" stroke-width="0.8"/>
<line x1="302.00" y1="315.11" x2="304.20" y2="315.11" stroke="#7a7a7a" stroke-width="0.8"/>
<line x1="302.00" y1="294.18" x2="304.20" y2="294.18" stroke="#7a7a7a" stroke-width="0.8"/>
<line x1="302.00" y1="273.24" x2="304.20" y2="273.24" stroke="#7a7a7a" stroke-width="0.8"/>
<line x1="302.00" y1="252.30" x2="304.20" y2="252.30" stroke="#7a7a7a" stroke-width="0.8"/>
<text x="302.00" y="430.20" font-size="7.2" font-family='"Liberation Sans", sans-serif' fill="#3c3c3c" text-anchor="middle" >0</text>
<text x="334.36" y="430.20" font-size="7.2" font-family='"Liberation Sans", sans-serif' fill="#3c3c3c" text-anchor="middle" >10</text>
<text x="366.71" y="430.20" font-size="7.2" font-family='"Liberation Sans", sans-serif' fill="#3c3c3c" text-anchor="middle" >20</text>
<text x="399.07" y="430.20" font-size="7.2" font-family='"Liberation Sans", sans-serif' fill="#3c3c3c" text-anchor="middle" >30</text>
<text x="431.43" y="430.20" font-size="7.2" font-family='"Liberation Sans", sans-serif' fill="#3c3c3c" text-anchor="middle" >40</text>
<text x="463.79" y="430.20" font-size="7.2" font-family='"Liberation Sans", sans-serif' fill="#3c3c3c" text-anchor="middle" >50</text>
<text x="496.14" y="430.20" font-size="7.2" font-family='"Liberation Sans", sans-serif' fill="#3c3c3c" text-anchor="middle" >60</text>
<text x="528.50" y="430.20" font-size="7.2" font-family='"Liberation Sans", sans-serif' fill="#3c3c3c" text-anchor="middle" >70</text>
<text x="297.80" y="422.39" font-size="7.2" font-family='"Liberation Sans", sans-serif' fill="#3c3c3c" text-anchor="end" >0</text>
<text x="297.80" y="401.45" font-size="7.2" font-family='"Liberation Sans", sans-serif' fill="#3c3c3c" text-anchor="end" >0.02</text>
<text x="297.80" y="380.52" font-size="7.2" font-family='"Liberation Sans", sans-serif' fill="#3c3c3c" text-anchor="end" >0.04</text>
<text x="297.80" y="359.58" font-size="7.2" font-family='"Liberation Sans", sans-serif' fill="#3c3c3c" text-anchor="end" >0.06</text>
<text x="297.80" y="338.64" font-size="7.2" font-family='"Liberation Sans", sans-serif' fill="#3c3c3c" text-anchor="end" >0.08</text>
<text x="297.80" y="317.70" font-size="7.2" font-family='"Liberation Sans", sans-serif' fill="#3c3c3c" text-anchor="end" >0.1</text>
<text x="297.80" y="296.77" font-size="7.2" font-family='"Liberation Sans", sans-serif' fill="#3c3c3c" text-anchor="end" >0.12</text>
<text x="297.80" y="275.83" font-size="7.2" font-family='"Liberation Sans", sans-serif' fill="#3c3c3c" text-anchor="end" >0.14</text>
<text x="297.80" y="254.89" font-size="7.2" font-family='"Liberation Sans", sans-serif' fill="#3c3c3c" text-anchor="end" >0.16</text>
<text x="415.30" y="32.20" font-size="12" font-family='"Liberation Sans", sans-serif' fill="#000" text-anchor="middle" font-weight="bold" textLength="223.50" lengthAdjust="spacingAndGlyphs" >3T Signal Evolution along Echo Train</text>
<text x="414.50" y="246.60" font-size="12" font-family='"Liberation Sans", sans-serif' fill="#000" text-anchor="middle" font-weight="bold" textLength="222.50" lengthAdjust="spacingAndGlyphs" >7T Signal Evolution along Echo Train</text>
<text x="415.30" y="230.20" font-size="12" font-family='"Liberation Sans", sans-serif' fill="#222222" text-anchor="middle" textLength="76.50" lengthAdjust="spacingAndGlyphs" >Echo Number</text>
<text x="415.60" y="444.20" font-size="12" font-family='"Liberation Sans", sans-serif' fill="#222222" text-anchor="middle" textLength="76.50" lengthAdjust="spacingAndGlyphs" >Echo Number</text>
<text x="279.70" y="122.70" font-size="12" font-family='"Liberation Sans", sans-serif' fill="#222222" text-anchor="middle" textLength="88.50" lengthAdjust="spacingAndGlyphs" transform="rotate(-90 279.70 122.70)" >Magnitude of F0</text>
<text x="279.70" y="337.10" font-size="12" font-family='"Liberation Sans", sans-serif' fill="#222222" text-anchor="middle" textLength="88.50" lengthAdjust="spacingAndGlyphs" transform="rotate(-90 279.70 337.10)" >Magnitude of F0</text>
<path d="M305.24,160.52 L308.47,173.37 L428.84,159.05 L496.14,161.86 L497.76,178.45 L499.38,197.64 L528.50,199.18" fill="none" stroke="#000000" stroke-width="1.5" stroke-linejoin="round" stroke-dasharray="1.2 0.9" />
<path d="M305.24,137.25 L308.47,155.17 L389.69,135.31 L435.31,143.54 L435.96,178.45 L436.61,199.85 L528.50,202.12" fill="none" stroke="#FF0000" stroke-width="1.5" stroke-linejoin="round" stroke-dasharray="1.2 0.9" />
<path d="M305.24,123.61 L308.47,143.80 L372.86,123.14 L408.45,134.11 L409.43,171.76 L410.72,201.86 L463.79,202.19 L528.50,202.52" fill="none" stroke="#0000FF" stroke-width="1.5" stroke-linejoin="round" stroke-dasharray="1.2 0.9" />
<path d="M305.24,121.27 L308.47,143.80 L410.07,158.12 L428.19,160.93 L440.04,165.61 L470.03,177.24 L496.14,185.94 L499.38,198.91 L528.50,202.93" fill="none" stroke="#000000" stroke-width="1.6" stroke-linejoin="round" />
<path d="M305.24,71.44 L308.47,106.22 L388.39,133.30 L434.34,172.43 L437.90,199.38 L463.79,202.52 L528.50,203.59" fill="none" stroke="#FF0000" stroke-width="1.6" stroke-linejoin="round" />
<path d="M305.24,42.28 L308.47,84.41 L368.33,114.58 L371.57,117.25 L374.80,121.60 L379.66,129.96 L386.13,139.66 L392.60,148.02 L399.07,154.71 L407.81,162.06 L409.75,185.14 L412.01,201.19 L431.43,203.19 L528.50,204.40" fill="none" stroke="#0000FF" stroke-width="1.6" stroke-linejoin="round" />
<path d="M305.24,381.90 L308.47,395.09 L428.84,391.43 L496.14,398.97 L497.76,407.24 L499.38,415.09 L528.50,416.66" fill="none" stroke="#000000" stroke-width="1.5" stroke-linejoin="round" stroke-dasharray="1.2 0.9" />
<path d="M305.24,356.99 L308.47,376.15 L391.95,371.75 L418.16,381.17 L434.34,384.94 L435.31,398.86 L436.61,415.61 L528.50,418.75" fill="none" stroke="#FF0000" stroke-width="1.5" stroke-linejoin="round" stroke-dasharray="1.2 0.9" />
<path d="M305.24,342.54 L308.47,364.32 L318.18,362.64 L371.57,359.29 L407.81,377.30 L409.43,398.86 L411.37,417.18 L528.50,417.71" fill="none" stroke="#0000FF" stroke-width="1.5" stroke-linejoin="round" stroke-dasharray="1.2 0.9" />
<path d="M305.24,345.37 L308.47,367.88 L418.16,373.32 L429.81,374.47 L496.14,395.20 L499.38,412.05 L528.50,417.50" fill="none" stroke="#000000" stroke-width="1.6" stroke-linejoin="round" />
<path d="M305.24,294.38 L308.47,328.93 L388.07,340.34 L418.16,364.11 L433.37,374.99 L434.66,388.39 L437.90,413.52 L463.79,417.71 L528.50,418.96" fill="none" stroke="#FF0000" stroke-width="1.6" stroke-linejoin="round" />
<path d="M305.24,261.30 L308.47,304.96 L311.71,306.00 L371.57,318.99 L388.07,339.92 L408.45,363.16 L410.40,398.86 L412.01,414.04 L431.43,416.66 L528.50,418.75" fill="none" stroke="#0000FF" stroke-width="1.6" stroke-linejoin="round" />
<rect x="460.40" y="44.40" width="62.10" height="53.00" fill="#fff" stroke="#7a7a7a" stroke-width="0.9"/>
<line x1="462.40" y1="49.70" x2="478.10" y2="49.70" stroke="#0000FF" stroke-width="1.7"/>
<text x="479.20" y="52.10" font-size="6.8" font-family='"Liberation Sans", sans-serif' fill="#2a2a2a" text-anchor="start" textLength="35.50" lengthAdjust="spacingAndGlyphs" >WM ETL=33</text>
<line x1="462.40" y1="58.10" x2="478.10" y2="58.10" stroke="#FF0000" stroke-width="1.7"/>
<text x="479.20" y="60.50" font-size="6.8" font-family='"Liberation Sans", sans-serif' fill="#2a2a2a" text-anchor="start" textLength="35.50" lengthAdjust="spacingAndGlyphs" >WM ETL=41</text>
<line x1="462.40" y1="66.80" x2="478.10" y2="66.80" stroke="#000000" stroke-width="1.7"/>
<text x="479.20" y="69.20" font-size="6.8" font-family='"Liberation Sans", sans-serif' fill="#2a2a2a" text-anchor="start" textLength="35.50" lengthAdjust="spacingAndGlyphs" >WM ETL=60</text>
<line x1="462.40" y1="75.40" x2="478.10" y2="75.40" stroke="#0000FF" stroke-width="1.4" stroke-dasharray="1.2 0.9"/>
<text x="479.20" y="77.80" font-size="6.8" font-family='"Liberation Sans", sans-serif' fill="#2a2a2a" text-anchor="start" textLength="39.50" lengthAdjust="spacingAndGlyphs" >Blood ETL=33</text>
<line x1="462.40" y1="83.60" x2="478.10" y2="83.60" stroke="#FF0000" stroke-width="1.4" stroke-dasharray="1.2 0.9"/>
<text x="479.20" y="86.00" font-size="6.8" font-family='"Liberation Sans", sans-serif' fill="#2a2a2a" text-anchor="start" textLength="39.50" lengthAdjust="spacingAndGlyphs" >Blood ETL=41</text>
<line x1="462.40" y1="91.70" x2="478.10" y2="91.70" stroke="#000000" stroke-width="1.4" stroke-dasharray="1.2 0.9"/>
<text x="479.20" y="94.10" font-size="6.8" font-family='"Liberation Sans", sans-serif' fill="#2a2a2a" text-anchor="start" textLength="39.50" lengthAdjust="spacingAndGlyphs" >Blood ETL=60</text>
<rect x="460.40" y="258.60" width="62.10" height="52.80" fill="#fff" stroke="#7a7a7a" stroke-width="0.9"/>
<line x1="462.40" y1="264.10" x2="478.10" y2="264.10" stroke="#0000FF" stroke-width="1.7"/>
<text x="479.20" y="266.50" font-size="6.8" font-family='"Liberation Sans", sans-serif' fill="#2a2a2a" text-anchor="start" textLength="35.50" lengthAdjust="spacingAndGlyphs" >WM ETL=33</text>
<line x1="462.40" y1="272.50" x2="478.10" y2="272.50" stroke="#FF0000" stroke-width="1.7"/>
<text x="479.20" y="274.90" font-size="6.8" font-family='"Liberation Sans", sans-serif' fill="#2a2a2a" text-anchor="start" textLength="35.50" lengthAdjust="spacingAndGlyphs" >WM ETL=41</text>
<line x1="462.40" y1="280.90" x2="478.10" y2="280.90" stroke="#000000" stroke-width="1.7"/>
<text x="479.20" y="283.30" font-size="6.8" font-family='"Liberation Sans", sans-serif' fill="#2a2a2a" text-anchor="start" textLength="35.50" lengthAdjust="spacingAndGlyphs" >WM ETL=60</text>
<line x1="462.40" y1="289.40" x2="478.10" y2="289.40" stroke="#0000FF" stroke-width="1.4" stroke-dasharray="1.2 0.9"/>
<text x="479.20" y="291.80" font-size="6.8" font-family='"Liberation Sans", sans-serif' fill="#2a2a2a" text-anchor="start" textLength="39.50" lengthAdjust="spacingAndGlyphs" >Blood ETL=33</text>
<line x1="462.40" y1="297.80" x2="478.10" y2="297.80" stroke="#FF0000" stroke-width="1.4" stroke-dasharray="1.2 0.9"/>
<text x="479.20" y="300.20" font-size="6.8" font-family='"Liberation Sans", sans-serif' fill="#2a2a2a" text-anchor="start" textLength="39.50" lengthAdjust="spacingAndGlyphs" >Blood ETL=41</text>
<line x1="462.40" y1="306.30" x2="478.10" y2="306.30" stroke="#000000" stroke-width="1.4" stroke-dasharray="1.2 0.9"/>
<text x="479.20" y="308.70" font-size="6.8" font-family='"Liberation Sans", sans-serif' fill="#2a2a2a" text-anchor="start" textLength="39.50" lengthAdjust="spacingAndGlyphs" >Blood ETL=60</text>
<line x1="576.40" y1="123.00" x2="798.10" y2="123.00" stroke="#a3a3a3" stroke-width="1.25" stroke-dasharray="5.4 2.75"/>
<rect x="576.40" y="38.40" width="221.70" height="169.20" fill="none" stroke="#7a7a7a" stroke-width="1"/>
<line x1="576.40" y1="207.60" x2="576.40" y2="205.40" stroke="#7a7a7a" stroke-width="0.8"/>
<line x1="576.40" y1="38.40" x2="576.40" y2="40.60" stroke="#7a7a7a" stroke-width="0.8"/>
<line x1="598.57" y1="207.60" x2="598.57" y2="205.40" stroke="#7a7a7a" stroke-width="0.8"/>
<line x1="598.57" y1="38.40" x2="598.57" y2="40.60" stroke="#7a7a7a" stroke-width="0.8"/>
<line x1="620.74" y1="207.60" x2="620.74" y2="205.40" stroke="#7a7a7a" stroke-width="0.8"/>
<line x1="620.74" y1="38.40" x2="620.74" y2="40.60" stroke="#7a7a7a" stroke-width="0.8"/>
<line x1="642.91" y1="207.60" x2="642.91" y2="205.40" stroke="#7a7a7a" stroke-width="0.8"/>
<line x1="642.91" y1="38.40" x2="642.91" y2="40.60" stroke="#7a7a7a" stroke-width="0.8"/>
<line x1="665.08" y1="207.60" x2="665.08" y2="205.40" stroke="#7a7a7a" stroke-width="0.8"/>
<line x1="665.08" y1="38.40" x2="665.08" y2="40.60" stroke="#7a7a7a" stroke-width="0.8"/>
<line x1="687.25" y1="207.60" x2="687.25" y2="205.40" stroke="#7a7a7a" stroke-width="0.8"/>
<line x1="687.25" y1="38.40" x2="687.25" y2="40.60" stroke="#7a7a7a" stroke-width="0.8"/>
<line x1="709.42" y1="207.60" x2="709.42" y2="205.40" stroke="#7a7a7a" stroke-width="0.8"/>
<line x1="709.42" y1="38.40" x2="709.42" y2="40.60" stroke="#7a7a7a" stroke-width="0.8"/>
<line x1="731.59" y1="207.60" x2="731.59" y2="205.40" stroke="#7a7a7a" stroke-width="0.8"/>
<line x1="731.59" y1="38.40" x2="731.59" y2="40.60" stroke="#7a7a7a" stroke-width="0.8"/>
<line x1="753.76" y1="207.60" x2="753.76" y2="205.40" stroke="#7a7a7a" stroke-width="0.8"/>
<line x1="753.76" y1="38.40" x2="753.76" y2="40.60" stroke="#7a7a7a" stroke-width="0.8"/>
<line x1="775.93" y1="207.60" x2="775.93" y2="205.40" stroke="#7a7a7a" stroke-width="0.8"/>
<line x1="775.93" y1="38.40" x2="775.93" y2="40.60" stroke="#7a7a7a" stroke-width="0.8"/>
<line x1="798.10" y1="207.60" x2="798.10" y2="205.40" stroke="#7a7a7a" stroke-width="0.8"/>
<line x1="798.10" y1="38.40" x2="798.10" y2="40.60" stroke="#7a7a7a" stroke-width="0.8"/>
<line x1="576.40" y1="207.60" x2="578.60" y2="207.60" stroke="#7a7a7a" stroke-width="0.8"/>
<line x1="798.10" y1="207.60" x2="795.90" y2="207.60" stroke="#7a7a7a" stroke-width="0.8"/>
<line x1="576.40" y1="190.68" x2="578.60" y2="190.68" stroke="#7a7a7a" stroke-width="0.8"/>
<line x1="798.10" y1="190.68" x2="795.90" y2="190.68" stroke="#7a7a7a" stroke-width="0.8"/>
<line x1="576.40" y1="173.76" x2="578.60" y2="173.76" stroke="#7a7a7a" stroke-width="0.8"/>
<line x1="798.10" y1="173.76" x2="795.90" y2="173.76" stroke="#7a7a7a" stroke-width="0.8"/>
<line x1="576.40" y1="156.84" x2="578.60" y2="156.84" stroke="#7a7a7a" stroke-width="0.8"/>
<line x1="798.10" y1="156.84" x2="795.90" y2="156.84" stroke="#7a7a7a" stroke-width="0.8"/>
<line x1="576.40" y1="139.92" x2="578.60" y2="139.92" stroke="#7a7a7a" stroke-width="0.8"/>
<line x1="798.10" y1="139.92" x2="795.90" y2="139.92" stroke="#7a7a7a" stroke-width="0.8"/>
<line x1="576.40" y1="123.00" x2="578.60" y2="123.00" stroke="#7a7a7a" stroke-width="0.8"/>
<line x1="798.10" y1="123.00" x2="795.90" y2="123.00" stroke="#7a7a7a" stroke-width="0.8"/>
<line x1="576.40" y1="106.08" x2="578.60" y2="106.08" stroke="#7a7a7a" stroke-width="0.8"/>
<line x1="798.10" y1="106.08" x2="795.90" y2="106.08" stroke="#7a7a7a" stroke-width="0.8"/>
<line x1="576.40" y1="89.16" x2="578.60" y2="89.16" stroke="#7a7a7a" stroke-width="0.8"/>
<line x1="798.10" y1="89.16" x2="795.90" y2="89.16" stroke="#7a7a7a" stroke-width="0.8"/>
<line x1="576.40" y1="72.24" x2="578.60" y2="72.24" stroke="#7a7a7a" stroke-width="0.8"/>
<line x1="798.10" y1="72.24" x2="795.90" y2="72.24" stroke="#7a7a7a" stroke-width="0.8"/>
<line x1="576.40" y1="55.32" x2="578.60" y2="55.32" stroke="#7a7a7a" stroke-width="0.8"/>
<line x1="798.10" y1="55.32" x2="795.90" y2="55.32" stroke="#7a7a7a" stroke-width="0.8"/>
<line x1="576.40" y1="38.40" x2="578.60" y2="38.40" stroke="#7a7a7a" stroke-width="0.8"/>
<line x1="798.10" y1="38.40" x2="795.90" y2="38.40" stroke="#7a7a7a" stroke-width="0.8"/>
<text x="576.40" y="218.00" font-size="7.2" font-family='"Liberation Sans", sans-serif' fill="#3c3c3c" text-anchor="middle" >-5</text>
<text x="598.57" y="218.00" font-size="7.2" font-family='"Liberation Sans", sans-serif' fill="#3c3c3c" text-anchor="middle" >-4</text>
<text x="620.74" y="218.00" font-size="7.2" font-family='"Liberation Sans", sans-serif' fill="#3c3c3c" text-anchor="middle" >-3</text>
<text x="642.91" y="218.00" font-size="7.2" font-family='"Liberation Sans", sans-serif' fill="#3c3c3c" text-anchor="middle" >-2</text>
<text x="665.08" y="218.00" font-size="7.2" font-family='"Liberation Sans", sans-serif' fill="#3c3c3c" text-anchor="middle" >-1</text>
<text x="687.25" y="218.00" font-size="7.2" font-family='"Liberation Sans", sans-serif' fill="#3c3c3c" text-anchor="middle" >0</text>
<text x="709.42" y="218.00" font-size="7.2" font-family='"Liberation Sans", sans-serif' fill="#3c3c3c" text-anchor="middle" >1</text>
<text x="731.59" y="218.00" font-size="7.2" font-family='"Liberation Sans", sans-serif' fill="#3c3c3c" text-anchor="middle" >2</text>
<text x="753.76" y="218.00" font-size="7.2" font-family='"Liberation Sans", sans-serif' fill="#3c3c3c" text-anchor="middle" >3</text>
<text x="775.93" y="218.00" font-size="7.2" font-family='"Liberation Sans", sans-serif' fill="#3c3c3c" text-anchor="middle" >4</text>
<text x="798.10" y="218.00" font-size="7.2" font-family='"Liberation Sans", sans-serif' fill="#3c3c3c" text-anchor="middle" >5</text>
<text x="573.80" y="210.19" font-size="7.2" font-family='"Liberation Sans", sans-serif' fill="#3c3c3c" text-anchor="end" >0</text>
<text x="573.80" y="193.27" font-size="7.2" font-family='"Liberation Sans", sans-serif' fill="#3c3c3c" text-anchor="end" >0.1</text>
<text x="573.80" y="176.35" font-size="7.2" font-family='"Liberation Sans", sans-serif' fill="#3c3c3c" text-anchor="end" >0.2</text>
<text x="573.80" y="159.43" font-size="7.2" font-family='"Liberation Sans", sans-serif' fill="#3c3c3c" text-anchor="end" >0.3</text>
<text x="573.80" y="142.51" font-size="7.2" font-family='"Liberation Sans", sans-serif' fill="#3c3c3c" text-anchor="end" >0.4</text>
<text x="573.80" y="125.59" font-size="7.2" font-family='"Liberation Sans", sans-serif' fill="#3c3c3c" text-anchor="end" >0.5</text>
<text x="573.80" y="108.67" font-size="7.2" font-family='"Liberation Sans", sans-serif' fill="#3c3c3c" text-anchor="end" >0.6</text>
<text x="573.80" y="91.75" font-size="7.2" font-family='"Liberation Sans", sans-serif' fill="#3c3c3c" text-anchor="end" >0.7</text>
<text x="573.80" y="74.83" font-size="7.2" font-family='"Liberation Sans", sans-serif' fill="#3c3c3c" text-anchor="end" >0.8</text>
<text x="573.80" y="57.91" font-size="7.2" font-family='"Liberation Sans", sans-serif' fill="#3c3c3c" text-anchor="end" >0.9</text>
<text x="573.80" y="40.99" font-size="7.2" font-family='"Liberation Sans", sans-serif' fill="#3c3c3c" text-anchor="end" >1</text>
<line x1="576.40" y1="337.35" x2="798.10" y2="337.35" stroke="#a3a3a3" stroke-width="1.25" stroke-dasharray="5.4 2.75"/>
<rect x="576.40" y="252.80" width="221.70" height="169.10" fill="none" stroke="#7a7a7a" stroke-width="1"/>
<line x1="576.40" y1="421.90" x2="576.40" y2="419.70" stroke="#7a7a7a" stroke-width="0.8"/>
<line x1="576.40" y1="252.80" x2="576.40" y2="255.00" stroke="#7a7a7a" stroke-width="0.8"/>
<line x1="598.57" y1="421.90" x2="598.57" y2="419.70" stroke="#7a7a7a" stroke-width="0.8"/>
<line x1="598.57" y1="252.80" x2="598.57" y2="255.00" stroke="#7a7a7a" stroke-width="0.8"/>
<line x1="620.74" y1="421.90" x2="620.74" y2="419.70" stroke="#7a7a7a" stroke-width="0.8"/>
<line x1="620.74" y1="252.80" x2="620.74" y2="255.00" stroke="#7a7a7a" stroke-width="0.8"/>
<line x1="642.91" y1="421.90" x2="642.91" y2="419.70" stroke="#7a7a7a" stroke-width="0.8"/>
<line x1="642.91" y1="252.80" x2="642.91" y2="255.00" stroke="#7a7a7a" stroke-width="0.8"/>
<line x1="665.08" y1="421.90" x2="665.08" y2="419.70" stroke="#7a7a7a" stroke-width="0.8"/>
<line x1="665.08" y1="252.80" x2="665.08" y2="255.00" stroke="#7a7a7a" stroke-width="0.8"/>
<line x1="687.25" y1="421.90" x2="687.25" y2="419.70" stroke="#7a7a7a" stroke-width="0.8"/>
<line x1="687.25" y1="252.80" x2="687.25" y2="255.00" stroke="#7a7a7a" stroke-width="0.8"/>
<line x1="709.42" y1="421.90" x2="709.42" y2="419.70" stroke="#7a7a7a" stroke-width="0.8"/>
<line x1="709.42" y1="252.80" x2="709.42" y2="255.00" stroke="#7a7a7a" stroke-width="0.8"/>
<line x1="731.59" y1="421.90" x2="731.59" y2="419.70" stroke="#7a7a7a" stroke-width="0.8"/>
<line x1="731.59" y1="252.80" x2="731.59" y2="255.00" stroke="#7a7a7a" stroke-width="0.8"/>
<line x1="753.76" y1="421.90" x2="753.76" y2="419.70" stroke="#7a7a7a" stroke-width="0.8"/>
<line x1="753.76" y1="252.80" x2="753.76" y2="255.00" stroke="#7a7a7a" stroke-width="0.8"/>
<line x1="775.93" y1="421.90" x2="775.93" y2="419.70" stroke="#7a7a7a" stroke-width="0.8"/>
<line x1="775.93" y1="252.80" x2="775.93" y2="255.00" stroke="#7a7a7a" stroke-width="0.8"/>
<line x1="798.10" y1="421.90" x2="798.10" y2="419.70" stroke="#7a7a7a" stroke-width="0.8"/>
<line x1="798.10" y1="252.80" x2="798.10" y2="255.00" stroke="#7a7a7a" stroke-width="0.8"/>
<line x1="576.40" y1="421.90" x2="578.60" y2="421.90" stroke="#7a7a7a" stroke-width="0.8"/>
<line x1="798.10" y1="421.90" x2="795.90" y2="421.90" stroke="#7a7a7a" stroke-width="0.8"/>
<line x1="576.40" y1="404.99" x2="578.60" y2="404.99" stroke="#7a7a7a" stroke-width="0.8"/>
<line x1="798.10" y1="404.99" x2="795.90" y2="404.99" stroke="#7a7a7a" stroke-width="0.8"/>
<line x1="576.40" y1="388.08" x2="578.60" y2="388.08" stroke="#7a7a7a" stroke-width="0.8"/>
<line x1="798.10" y1="388.08" x2="795.90" y2="388.08" stroke="#7a7a7a" stroke-width="0.8"/>
<line x1="576.40" y1="371.17" x2="578.60" y2="371.17" stroke="#7a7a7a" stroke-width="0.8"/>
<line x1="798.10" y1="371.17" x2="795.90" y2="371.17" stroke="#7a7a7a" stroke-width="0.8"/>
<line x1="576.40" y1="354.26" x2="578.60" y2="354.26" stroke="#7a7a7a" stroke-width="0.8"/>
<line x1="798.10" y1="354.26" x2="795.90" y2="354.26" stroke="#7a7a7a" stroke-width="0.8"/>
<line x1="576.40" y1="337.35" x2="578.60" y2="337.35" stroke="#7a7a7a" stroke-width="0.8"/>
<line x1="798.10" y1="337.35" x2="795.90" y2="337.35" stroke="#7a7a7a" stroke-width="0.8"/>
<line x1="576.40" y1="320.44" x2="578.60" y2="320.44" stroke="#7a7a7a" stroke-width="0.8"/>
<line x1="798.10" y1="320.44" x2="795.90" y2="320.44" stroke="#7a7a7a" stroke-width="0.8"/>
<line x1="576.40" y1="303.53" x2="578.60" y2="303.53" stroke="#7a7a7a" stroke-width="0.8"/>
<line x1="798.10" y1="303.53" x2="795.90" y2="303.53" stroke="#7a7a7a" stroke-width="0.8"/>
<line x1="576.40" y1="286.62" x2="578.60" y2="286.62" stroke="#7a7a7a" stroke-width="0.8"/>
<line x1="798.10" y1="286.62" x2="795.90" y2="286.62" stroke="#7a7a7a" stroke-width="0.8"/>
<line x1="576.40" y1="269.71" x2="578.60" y2="269.71" stroke="#7a7a7a" stroke-width="0.8"/>
<line x1="798.10" y1="269.71" x2="795.90" y2="269.71" stroke="#7a7a7a" stroke-width="0.8"/>
<line x1="576.40" y1="252.80" x2="578.60" y2="252.80" stroke="#7a7a7a" stroke-width="0.8"/>
<line x1="798.10" y1="252.80" x2="795.90" y2="252.80" stroke="#7a7a7a" stroke-width="0.8"/>
<text x="576.40" y="432.30" font-size="7.2" font-family='"Liberation Sans", sans-serif' fill="#3c3c3c" text-anchor="middle" >-5</text>
<text x="598.57" y="432.30" font-size="7.2" font-family='"Liberation Sans", sans-serif' fill="#3c3c3c" text-anchor="middle" >-4</text>
<text x="620.74" y="432.30" font-size="7.2" font-family='"Liberation Sans", sans-serif' fill="#3c3c3c" text-anchor="middle" >-3</text>
<text x="642.91" y="432.30" font-size="7.2" font-family='"Liberation Sans", sans-serif' fill="#3c3c3c" text-anchor="middle" >-2</text>
<text x="665.08" y="432.30" font-size="7.2" font-family='"Liberation Sans", sans-serif' fill="#3c3c3c" text-anchor="middle" >-1</text>
<text x="687.25" y="432.30" font-size="7.2" font-family='"Liberation Sans", sans-serif' fill="#3c3c3c" text-anchor="middle" >0</text>
<text x="709.42" y="432.30" font-size="7.2" font-family='"Liberation Sans", sans-serif' fill="#3c3c3c" text-anchor="middle" >1</text>
<text x="731.59" y="432.30" font-size="7.2" font-family='"Liberation Sans", sans-serif' fill="#3c3c3c" text-anchor="middle" >2</text>
<text x="753.76" y="432.30" font-size="7.2" font-family='"Liberation Sans", sans-serif' fill="#3c3c3c" text-anchor="middle" >3</text>
<text x="775.93" y="432.30" font-size="7.2" font-family='"Liberation Sans", sans-serif' fill="#3c3c3c" text-anchor="middle" >4</text>
<text x="798.10" y="432.30" font-size="7.2" font-family='"Liberation Sans", sans-serif' fill="#3c3c3c" text-anchor="middle" >5</text>
<text x="573.80" y="424.49" font-size="7.2" font-family='"Liberation Sans", sans-serif' fill="#3c3c3c" text-anchor="end" >0</text>
<text x="573.80" y="407.58" font-size="7.2" font-family='"Liberation Sans", sans-serif' fill="#3c3c3c" text-anchor="end" >0.1</text>
<text x="573.80" y="390.67" font-size="7.2" font-family='"Liberation Sans", sans-serif' fill="#3c3c3c" text-anchor="end" >0.2</text>
<text x="573.80" y="373.76" font-size="7.2" font-family='"Liberation Sans", sans-serif' fill="#3c3c3c" text-anchor="end" >0.3</text>
<text x="573.80" y="356.85" font-size="7.2" font-family='"Liberation Sans", sans-serif' fill="#3c3c3c" text-anchor="end" >0.4</text>
<text x="573.80" y="339.94" font-size="7.2" font-family='"Liberation Sans", sans-serif' fill="#3c3c3c" text-anchor="end" >0.5</text>
<text x="573.80" y="323.03" font-size="7.2" font-family='"Liberation Sans", sans-serif' fill="#3c3c3c" text-anchor="end" >0.6</text>
<text x="573.80" y="306.12" font-size="7.2" font-family='"Liberation Sans", sans-serif' fill="#3c3c3c" text-anchor="end" >0.7</text>
<text x="573.80" y="289.21" font-size="7.2" font-family='"Liberation Sans", sans-serif' fill="#3c3c3c" text-anchor="end" >0.8</text>
<text x="573.80" y="272.30" font-size="7.2" font-family='"Liberation Sans", sans-serif' fill="#3c3c3c" text-anchor="end" >0.9</text>
<text x="573.80" y="255.39" font-size="7.2" font-family='"Liberation Sans", sans-serif' fill="#3c3c3c" text-anchor="end" >1</text>
<text x="686.80" y="33.00" font-size="12" font-family='"Liberation Sans", sans-serif' fill="#000" text-anchor="middle" font-weight="bold" textLength="206.50" lengthAdjust="spacingAndGlyphs" >Normalized PSF with Field Strength</text>
<text x="687.20" y="247.00" font-size="12" font-family='"Liberation Sans", sans-serif' fill="#000" text-anchor="middle" font-weight="bold" textLength="194.00" lengthAdjust="spacingAndGlyphs" >Normalized PSF with # of Echoes</text>
<text x="687.30" y="231.20" font-size="12" font-family='"Liberation Sans", sans-serif' fill="#222222" text-anchor="middle" textLength="71.20" lengthAdjust="spacingAndGlyphs" >Pixel number</text>
<text x="687.30" y="444.60" font-size="12" font-family='"Liberation Sans", sans-serif' fill="#222222" text-anchor="middle" textLength="71.20" lengthAdjust="spacingAndGlyphs" >Pixel number</text>
<text x="558.90" y="121.70" font-size="12" font-family='"Liberation Sans", sans-serif' fill="#222222" text-anchor="middle" textLength="99.00" lengthAdjust="spacingAndGlyphs" transform="rotate(-90 558.90 121.70)" >Normalized Signal</text>
<text x="558.90" y="336.10" font-size="12" font-family='"Liberation Sans", sans-serif' fill="#222222" text-anchor="middle" textLength="99.00" lengthAdjust="spacingAndGlyphs" transform="rotate(-90 558.90 336.10)" >Normalized Signal</text>
<path d="M576.40,206.58 L598.57,202.86 L620.74,204.39 L642.91,203.37 L665.08,145.00 L687.25,38.40 L709.42,143.81 L731.59,203.54 L753.76,204.39 L775.93,202.52 L798.10,206.75" fill="none" stroke="#66B3E0" stroke-width="1.1" stroke-linejoin="round" />
<path d="M576.40,206.92 L598.57,203.03 L620.74,204.39 L642.91,200.16 L665.08,152.61 L687.25,38.40 L709.42,152.61 L731.59,200.16 L753.76,204.39 L775.93,202.52 L798.10,206.75" fill="none" stroke="#E8906C" stroke-width="1.1" stroke-linejoin="round" />
<path d="M576.40,421.22 L598.57,416.83 L620.74,418.18 L642.91,414.97 L665.08,367.96 L687.25,252.80 L709.42,367.96 L731.59,414.97 L753.76,418.18 L775.93,416.83 L798.10,421.22" fill="none" stroke="#66B3E0" stroke-width="1.1" stroke-linejoin="round" />
<path d="M576.40,420.55 L598.57,415.98 L620.74,419.36 L642.91,420.38 L665.08,381.65 L687.25,252.80 L709.42,381.65 L731.59,420.38 L753.76,419.36 L775.93,415.98 L798.10,420.55" fill="none" stroke="#E8906C" stroke-width="1.1" stroke-linejoin="round" />
<rect x="695.20" y="44.50" width="96.60" height="19.60" fill="#fff" stroke="#7a7a7a" stroke-width="0.9"/>
<line x1="697.20" y1="49.90" x2="712.00" y2="49.90" stroke="#66B3E0" stroke-width="1.1"/>
<text x="713.80" y="52.80" font-size="7.2" font-family='"Liberation Sans", sans-serif' fill="#333" text-anchor="start" textLength="75.40" lengthAdjust="spacingAndGlyphs" >3T ETL41 FWHM=1.5907</text>
<line x1="697.20" y1="58.60" x2="712.00" y2="58.60" stroke="#E8906C" stroke-width="1.1"/>
<text x="713.80" y="61.50" font-size="7.2" font-family='"Liberation Sans", sans-serif' fill="#333" text-anchor="start" textLength="75.40" lengthAdjust="spacingAndGlyphs" >7T ETL41 FWHM=1.4706</text>
<rect x="695.20" y="259.30" width="96.60" height="19.30" fill="#fff" stroke="#7a7a7a" stroke-width="0.9"/>
<line x1="697.20" y1="264.60" x2="712.00" y2="264.60" stroke="#66B3E0" stroke-width="1.1"/>
<text x="713.80" y="267.50" font-size="7.2" font-family='"Liberation Sans", sans-serif' fill="#333" text-anchor="start" textLength="75.40" lengthAdjust="spacingAndGlyphs" >7T ETL41 FWHM=1.4706</text>
<line x1="697.20" y1="273.20" x2="712.00" y2="273.20" stroke="#E8906C" stroke-width="1.1"/>
<text x="713.80" y="276.10" font-size="7.2" font-family='"Liberation Sans", sans-serif' fill="#333" text-anchor="start" textLength="75.40" lengthAdjust="spacingAndGlyphs" >7T ETL60 FWHM=1.3112</text>
</svg></body></html>
